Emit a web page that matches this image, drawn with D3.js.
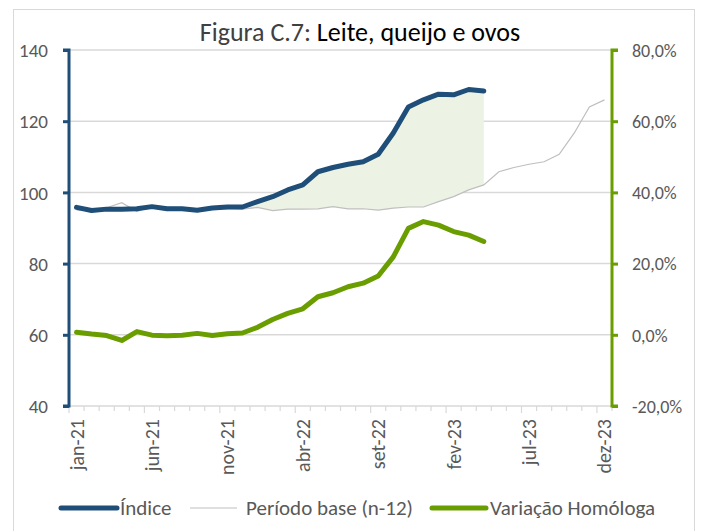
<!DOCTYPE html>
<html>
<head>
<meta charset="utf-8">
<script src="https://cdn.jsdelivr.net/npm/d3@7"></script>
<style>
  html, body { margin: 0; padding: 0; background: #fff; }
  svg { display: block; font-family: Carlito, 'Open Sans', sans-serif; }
</style>
</head>
<body>
<svg id="chart" width="703" height="531"></svg>
<script>
// meses jan-21 .. dez-23
const meses = ['jan', 'fev', 'mar', 'abr', 'mai', 'jun', 'jul', 'ago', 'set', 'out', 'nov', 'dez'];
const categorias = ['21', '22', '23'].flatMap(a => meses.map(m => `${m}-${a}`));

// Índice (jan-21 .. abr-23)
const indice = [95.8, 94.9, 95.3, 95.3, 95.4, 96.0, 95.4, 95.4, 95.0, 95.6, 95.9, 95.9,
    97.4, 98.8, 100.7, 102.1, 105.8, 107.0, 107.9, 108.6, 110.7, 116.7, 124.0, 126.0,
    127.6, 127.4, 128.9, 128.5];

// Período base (n-12), jan-21 .. dez-23
const periodoBase = [95.1, 94.8, 95.7, 97.1, 94.6, 96.3, 95.9, 95.7, 94.6, 95.3, 95.5, 95.3,
    95.8, 94.9, 95.3, 95.3, 95.4, 96.0, 95.4, 95.4, 95.0, 95.6, 95.9, 95.9,
    97.4, 98.8, 100.7, 102.1, 105.8, 107.0, 107.9, 108.6, 110.7, 116.7, 124.0, 126.0];

// Variação homóloga (%), jan-21 .. abr-23
const variacao = [0.7, 0.2, -0.2, -1.6, 0.9, -0.1, -0.3, -0.1, 0.4, -0.2, 0.3, 0.5,
    2.1, 4.3, 6.0, 7.3, 10.7, 11.8, 13.5, 14.5, 16.5, 21.9, 29.9, 31.8,
    30.8, 29.0, 28.0, 26.2];

const ticksEsq = [40, 60, 80, 100, 120, 140];
const ticksDir = [-20, 0, 20, 40, 60, 80];
const rotulosX = ['jan-21', 'jun-21', 'nov-21', 'abr-22', 'set-22', 'fev-23', 'jul-23', 'dez-23'];
const inicioSombra = 11; // dez-21

const cores = {
    indice: '#1f4e79',
    base: '#bfbfbf',
    variacao: '#6a9e00',
    sombra: '#ecf3e4',
    grelha: '#d9d9d9',
    texto: '#595959'
};

const plot = { left: 69, right: 612, top: 50, bottom: 406 };
const svg = d3.select('#chart');

// moldura
svg.append('rect')
    .attr('x', 13.5).attr('y', 9.5)
    .attr('width', 681).attr('height', 530)
    .attr('fill', 'none')
    .attr('stroke', '#d9d9d9')
    .attr('stroke-width', 1);

const x = d3.scalePoint()
    .domain(categorias)
    .range([plot.left, plot.right])
    .padding(0.5);
const passo = x.step();

const yEsq = d3.scaleLinear().domain([40, 140]).range([plot.bottom, plot.top]);
const yDir = d3.scaleLinear().domain([-20, 80]).range([plot.bottom, plot.top]);

const pt = d3.formatLocale({ decimal: ',', thousands: '.', grouping: [3], currency: ['', '€'], minus: '-' });
const fmtPct = v => pt.format('.1f')(v) + '%';

// grelha
svg.append('g').selectAll('line')
    .data(ticksEsq.slice(1))
    .join('line')
    .attr('x1', plot.left).attr('x2', plot.right)
    .attr('y1', d => yEsq(d)).attr('y2', d => yEsq(d))
    .attr('stroke', cores.grelha)
    .attr('stroke-width', 1.5);

// eixo x
svg.append('line')
    .attr('x1', plot.left).attr('x2', plot.right)
    .attr('y1', plot.bottom).attr('y2', plot.bottom)
    .attr('stroke', cores.grelha).attr('stroke-width', 1.5);

svg.append('g').selectAll('line')
    .data(d3.range(categorias.length + 1))
    .join('line')
    .attr('x1', i => plot.left + i * passo)
    .attr('x2', i => plot.left + i * passo)
    .attr('y1', plot.bottom)
    .attr('y2', i => plot.bottom + (i % 5 === 0 ? 7 : 5))
    .attr('stroke', cores.grelha)
    .attr('stroke-width', 1.2);

svg.append('g').selectAll('text')
    .data(rotulosX)
    .join('text')
    .attr('transform', d => `translate(${x(d) + 7},${plot.bottom + 13}) rotate(-90)`)
    .attr('text-anchor', 'end')
    .attr('fill', cores.texto)
    .attr('font-size', 20)
    .text(d => d);

// sombra entre índice e período base
const idxSombra = d3.range(inicioSombra, indice.length);
svg.append('path')
    .datum(idxSombra)
    .attr('fill', cores.sombra)
    .attr('d', d3.area()
        .x(i => x(categorias[i]))
        .y0(i => yEsq(periodoBase[i]))
        .y1(i => yEsq(indice[i])));

// linhas
const linha = (escala) => d3.line()
    .x((d, i) => x(categorias[i]))
    .y(d => escala(d));

svg.append('path')
    .datum(periodoBase)
    .attr('fill', 'none')
    .attr('stroke', cores.base)
    .attr('stroke-width', 1.2)
    .attr('d', linha(yEsq));

svg.append('path')
    .datum(indice)
    .attr('fill', 'none')
    .attr('stroke', cores.indice)
    .attr('stroke-width', 5)
    .attr('stroke-linejoin', 'round')
    .attr('stroke-linecap', 'round')
    .attr('d', linha(yEsq));

svg.append('path')
    .datum(variacao)
    .attr('fill', 'none')
    .attr('stroke', cores.variacao)
    .attr('stroke-width', 5)
    .attr('stroke-linejoin', 'round')
    .attr('stroke-linecap', 'round')
    .attr('d', linha(yDir));

// eixo esquerdo
const eixoEsq = svg.append('g')
    .attr('transform', `translate(${plot.left},0)`)
    .call(d3.axisLeft(yEsq).tickValues(ticksEsq).tickSize(6).tickPadding(15));
eixoEsq.select('.domain').attr('stroke', cores.indice).attr('stroke-width', 3)
    .attr('d', `M-6,${plot.top}H0V${plot.bottom}H-6`);
eixoEsq.selectAll('.tick line').attr('stroke', cores.indice).attr('stroke-width', 3);
eixoEsq.selectAll('.tick text').attr('fill', cores.texto).attr('font-size', 19)
    .attr('dy', '0.35em');
eixoEsq.attr('font-family', null);

// eixo direito
const eixoDir = svg.append('g')
    .attr('transform', `translate(${plot.right},0)`)
    .call(d3.axisRight(yDir).tickValues(ticksDir).tickSize(6).tickPadding(14).tickFormat(fmtPct));
eixoDir.select('.domain').attr('stroke', cores.variacao).attr('stroke-width', 3)
    .attr('d', `M6,${plot.top}H0V${plot.bottom}H6`);
eixoDir.selectAll('.tick line').attr('stroke', cores.variacao).attr('stroke-width', 3);
eixoDir.selectAll('.tick text').attr('fill', cores.texto).attr('font-size', 18)
    .attr('dy', '0.35em');
eixoDir.attr('font-family', null);

// título
const titulo = svg.append('text')
    .attr('x', 360).attr('y', 41)
    .attr('text-anchor', 'middle')
    .attr('font-size', 26);
titulo.append('tspan').attr('fill', '#404040').text('Figura C.7: ');
titulo.append('tspan').attr('fill', '#000').text('Leite, queijo e ovos');

// legenda
const legenda = [
    { nome: 'Índice', cor: cores.indice, w: 5, x0: 61, x1: 117, tx: 120 },
    { nome: 'Período base (n-12)', cor: cores.base, w: 1.2, x0: 190, x1: 237, tx: 246 },
    { nome: 'Variação Homóloga', cor: cores.variacao, w: 5, x0: 432, x1: 486, tx: 490 }
];
const gl = svg.append('g');
gl.selectAll('line')
    .data(legenda)
    .join('line')
    .attr('x1', d => d.x0).attr('x2', d => d.x1)
    .attr('y1', 508).attr('y2', 508)
    .attr('stroke', d => d.cor)
    .attr('stroke-width', d => d.w)
    .attr('stroke-linecap', d => d.w > 2 ? 'round' : 'butt');
gl.selectAll('text')
    .data(legenda)
    .join('text')
    .attr('x', d => d.tx).attr('y', 508)
    .attr('dy', '0.35em')
    .attr('fill', cores.texto)
    .attr('font-size', 21)
    .text(d => d.nome);
</script>
</body>
</html>
